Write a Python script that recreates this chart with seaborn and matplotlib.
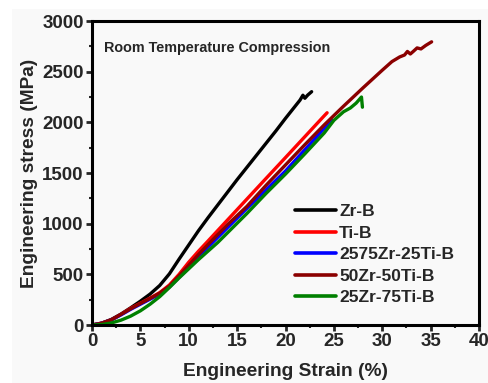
import numpy as np
import pandas as pd
import matplotlib
matplotlib.use("Agg")
import matplotlib.pyplot as plt
import seaborn as sns
from matplotlib.patches import Rectangle

# ---- data ----
zrb_strain = [0, 1, 2, 3, 4, 5, 6, 7, 8, 9, 10, 11, 12, 13, 14, 15, 16, 17, 18, 19, 20, 21, 21.5, 21.8, 22.0, 22.3, 22.7]
zrb_stress = [0, 18, 55, 108, 170, 235, 305, 390, 505, 650, 790, 930, 1060, 1185, 1310, 1435, 1555, 1675, 1795, 1915, 2040, 2160, 2220, 2268, 2238, 2270, 2303]

tib_strain = [0, 1, 2, 3, 4, 5, 6, 7, 8, 9, 10, 11, 12, 14, 16, 18, 20, 22, 24, 24.3]
tib_stress = [0, 18, 50, 105, 165, 215, 265, 320, 395, 500, 620, 728, 830, 1036, 1242, 1448, 1653, 1859, 2065, 2095]

b2575_strain = [0, 1, 2, 3, 4, 5, 6, 7, 8, 9, 10, 11, 12, 14, 16, 18, 20, 22, 24, 24.8]
b2575_stress = [0, 18, 50, 100, 155, 205, 255, 305, 375, 470, 570, 670, 770, 960, 1150, 1335, 1520, 1730, 1940, 2024]

b5050_strain = [0, 1, 2, 3, 4, 5, 6, 7, 8, 9, 10, 11, 12, 14, 16, 18, 20, 22, 24, 26, 28, 30, 31, 31.8, 32.3, 32.6, 32.9, 33.2, 33.6, 34.0, 34.5, 35.1]
b5050_stress = [0, 18, 52, 105, 160, 212, 262, 315, 385, 485, 590, 695, 795, 990, 1170, 1380, 1580, 1780, 1975, 2160, 2340, 2515, 2600, 2646, 2665, 2700, 2675, 2700, 2735, 2725, 2760, 2795]

b2575b_strain = [0, 1, 2, 3, 4, 5, 6, 7, 8, 9, 10, 11, 12, 13, 14, 15, 16, 18, 20, 22, 24, 25, 26, 26.7, 27.3, 27.85, 27.9, 27.95]
b2575b_stress = [0, 5, 20, 48, 88, 140, 205, 280, 370, 465, 555, 645, 730, 815, 910, 1005, 1100, 1300, 1490, 1690, 1895, 2020, 2105, 2142, 2190, 2250, 2200, 2150]

labels = ["Zr-B", "Ti-B", "2575Zr-25Ti-B", "50Zr-50Ti-B", "25Zr-75Ti-B"]
colors = ["#000000", "#ff0000", "#0000ff", "#8b0000", "#008000"]

series = [(zrb_strain, zrb_stress), (tib_strain, tib_stress), (b2575_strain, b2575_stress),
          (b5050_strain, b5050_stress), (b2575b_strain, b2575b_stress)]
frames = []
for lab, (xs, ys) in zip(labels, series):
    frames.append(pd.DataFrame({"strain": xs, "stress": ys, "alloy": lab}))
df = pd.concat(frames, ignore_index=True)

sns.set_style("ticks")
plt.rcParams["font.family"] = ["Liberation Sans", "DejaVu Sans"]
plt.rcParams["font.weight"] = "bold"

bg = "#f9f9f9"
fig = plt.figure(figsize=(4.88, 3.83), dpi=100, facecolor="white")
fig.patches.append(Rectangle((12 / 488, 0), 1, (383 - 9) / 383, transform=fig.transFigure,
                             facecolor=bg, edgecolor="none", zorder=-10))
ax = fig.add_axes([0.1885, 0.1514, 0.7931, 0.7936])
ax.set_facecolor(bg)

sns.lineplot(data=df, x="strain", y="stress", hue="alloy", hue_order=labels,
             palette=dict(zip(labels, colors)), sort=False, estimator=None,
             units="alloy", linewidth=2.4, ax=ax, legend=True)

ax.set_xlim(0, 40)
ax.set_ylim(0, 3000)
ax.set_xticks(np.arange(0, 41, 5))
ax.set_yticks(np.arange(0, 3001, 500))
ax.set_xticks(np.arange(2.5, 40, 5), minor=True)
ax.set_yticks(np.arange(250, 3000, 500), minor=True)
ax.tick_params(axis="both", which="major", direction="out", length=4, width=2,
               labelsize=13.5, pad=2)
ax.tick_params(axis="both", which="minor", direction="out", length=2.5, width=1.5)
for lab in ax.get_xticklabels() + ax.get_yticklabels():
    lab.set_fontweight("bold")
for sp in ax.spines.values():
    sp.set_linewidth(2.2)
    sp.set_color("black")

ax.set_xlabel("Engineering Strain (%)", fontsize=13.8, fontweight="bold", labelpad=9)
ax.set_ylabel("Engineering stress (MPa)", fontsize=13.8, fontweight="bold", labelpad=3)

ax.text(0.03, 0.91, "Room Temperature Compression", transform=ax.transAxes,
        fontsize=10.4, fontweight="bold", ha="left", va="center")

leg = ax.legend(loc="upper left", bbox_to_anchor=(0.506, 0.421), frameon=False,
                prop={"weight": "bold", "size": 12.5}, handlelength=2.4,
                handletextpad=0.15, labelspacing=0.37, borderaxespad=0)
for h in leg.get_lines():
    h.set_linewidth(2.6)

fig.savefig("out.png", dpi=100, facecolor="white")
